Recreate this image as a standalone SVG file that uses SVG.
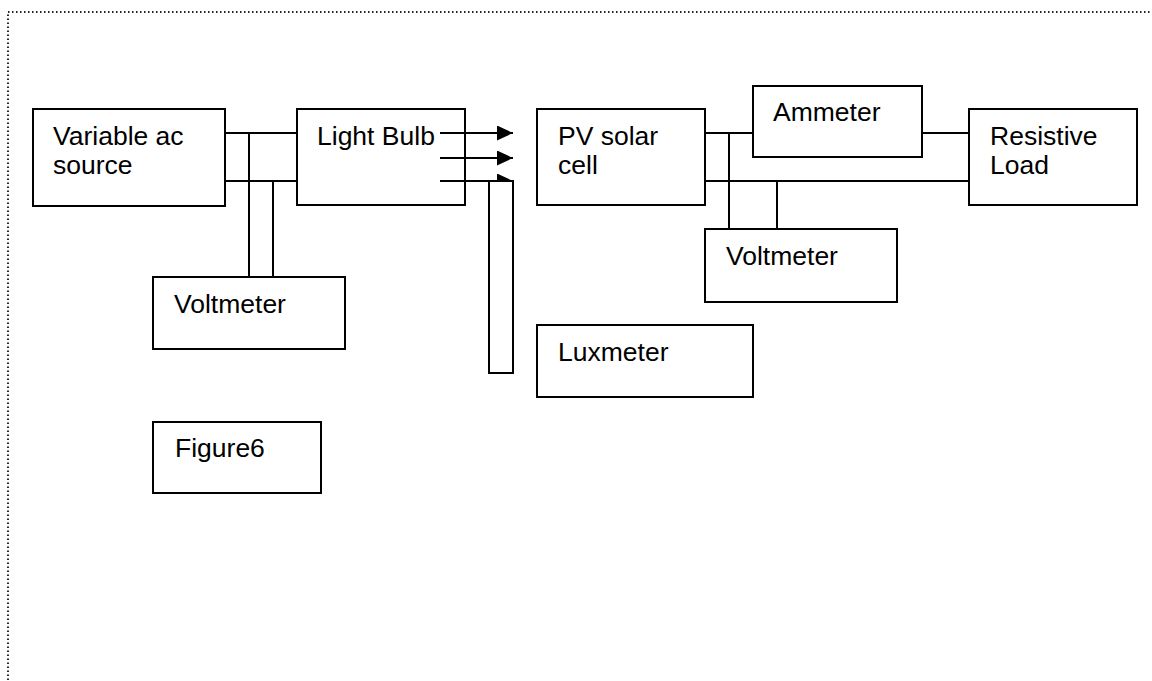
<svg xmlns="http://www.w3.org/2000/svg" width="1152" height="681" viewBox="0 0 1152 681">
<style>
.box{fill:#fff;stroke:#000;stroke-width:2}
.ln{fill:none;stroke:#000;stroke-width:2}
.t{font-family:"Liberation Sans",Arial,sans-serif;font-size:26.5px;fill:#000}
.frame{fill:none;stroke:#222;stroke-width:2;stroke-dasharray:1.5 2.5}
</style>
<defs>
<marker id="ah" markerWidth="16" markerHeight="15" refX="16" refY="7.5" orient="auto" markerUnits="userSpaceOnUse">
<path d="M0,0 L16,7.5 L0,15 Z" fill="#000"/>
</marker>
</defs>
<rect width="1152" height="681" fill="#fff"/>
<path class="frame" d="M8,700 L8,12 L1160,12"/>
<g id="connectors">
<path class="ln" d="M225,133 H297 M225,181 H297 M249,133 V277 M273,181 V277"/>
<path class="ln" d="M705,133 H753 M922,133 H969 M705,181 H969 M729,133 V229 M777,181 V229"/>
<line class="ln" x1="440" y1="133" x2="513" y2="133" marker-end="url(#ah)"/>
<line class="ln" x1="440" y1="158" x2="513" y2="158" marker-end="url(#ah)"/>
<line class="ln" x1="440" y1="181" x2="513" y2="181" marker-end="url(#ah)"/>
</g>
<g id="ac-source"><rect class="box" x="33" y="109" width="192" height="97"/><text class="t" x="53" y="145">Variable ac</text><text class="t" x="53" y="174">source</text></g>
<g id="light-bulb"><rect class="box" x="297" y="109" width="168" height="96" style="fill:none"/><text class="t" x="317" y="145">Light Bulb</text></g>
<g id="voltmeter-left"><rect class="box" x="153" y="277" width="192" height="72"/><text class="t" x="174" y="313">Voltmeter</text></g>
<g id="sensor"><rect class="box" x="489" y="181" width="24" height="192"/></g>
<g id="pv-cell"><rect class="box" x="537" y="109" width="168" height="96"/><text class="t" x="558" y="145">PV solar</text><text class="t" x="558" y="174">cell</text></g>
<g id="ammeter"><rect class="box" x="753" y="86" width="169" height="71"/><text class="t" x="773" y="121">Ammeter</text></g>
<g id="resistive-load"><rect class="box" x="969" y="109" width="168" height="96"/><text class="t" x="990" y="145">Resistive</text><text class="t" x="990" y="174">Load</text></g>
<g id="voltmeter-right"><rect class="box" x="705" y="229" width="192" height="73"/><text class="t" x="726" y="265">Voltmeter</text></g>
<g id="luxmeter"><rect class="box" x="537" y="325" width="216" height="72"/><text class="t" x="558" y="361">Luxmeter</text></g>
<g id="figure-label"><rect class="box" x="153" y="422" width="168" height="71"/><text class="t" x="175" y="457">Figure6</text></g>
</svg>
